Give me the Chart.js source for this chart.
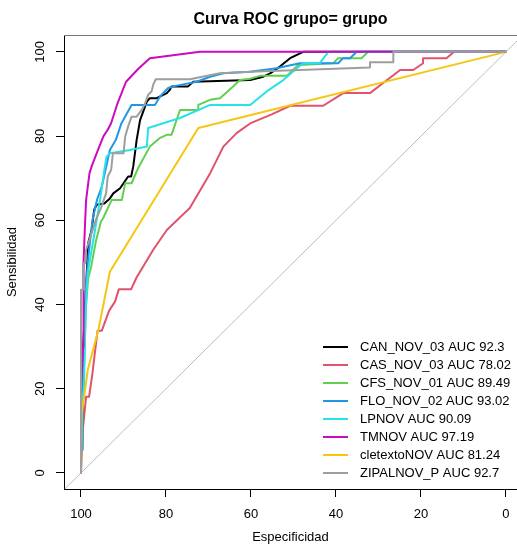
<!DOCTYPE html>
<html lang="es">
<head>
<meta charset="UTF-8">
<title>Curva ROC grupo= grupo</title>
<script src="https://cdn.jsdelivr.net/npm/chart.js@4"></script>
<style>
  html, body { margin: 0; padding: 0; background: #fff; }
  #wrap { width: 517px; height: 546px; }
</style>
</head>
<body>
<div id="wrap"><canvas id="rocChart" width="517" height="546"></canvas></div>
<script>
  // models and their AUC
  const modelNames = ['CAN_NOV_03', 'CAS_NOV_03', 'CFS_NOV_01', 'FLO_NOV_02', 'LPNOV', 'TMNOV', 'cletextoNOV', 'ZIPALNOV_P'];
  const aucValues = [92.3, 78.02, 89.49, 93.02, 90.09, 97.19, 81.24, 92.7];
  const tickValues = [0, 20, 40, 60, 80, 100];

  // especificidad / sensibilidad (%)
  const canSpec = [100, 100, 99.5, 99.0, 98.7, 98.3, 97.5, 96.9, 96.3, 94.5, 93.2, 92.4, 90.8, 88.9, 88.2, 87.7, 86.9, 86.1, 84.5, 83.8, 82.2, 79.8, 79.1, 78.7, 74.8, 73.6, 60.2, 57.1, 55.5, 53.2, 50.8, 47.7, 0];
  const canSens = [0, 20, 30, 40, 46.3, 54.6, 57.7, 62.5, 63.7, 64.0, 65.2, 66.4, 67.6, 70.4, 70.4, 72.8, 79.1, 83.8, 88.2, 89.0, 89.0, 90.2, 91.0, 91.8, 91.8, 92.9, 93.3, 94.1, 94.9, 96.5, 98.5, 100, 100];

  const casSpec = [100, 99.6, 98.8, 98.1, 97.3, 96.8, 96.1, 95.1, 93.4, 92.0, 91.1, 88.2, 87.0, 83.0, 79.8, 74.4, 69.6, 66.5, 63.4, 60.2, 55.0, 50.8, 43.0, 38.3, 32.0, 28.9, 24.9, 21.8, 19.5, 19.5, 14.0, 12.2, 0];
  const casSens = [0, 10, 18.1, 18.1, 23.7, 28.0, 33.8, 33.8, 38.5, 40.7, 43.6, 43.6, 46.3, 53.0, 57.7, 62.9, 71.2, 77.5, 80.7, 83.0, 85.2, 87.2, 87.2, 90.2, 90.2, 92.6, 95.7, 95.7, 97.3, 98.5, 98.5, 100, 100];

  const cfsSpec = [100, 100, 99.3, 98.8, 98.3, 97.6, 96.5, 95.3, 94.8, 92.8, 90.4, 89.6, 88.1, 86.5, 83.8, 81.5, 79.8, 78.7, 76.7, 72.4, 72.4, 69.6, 67.3, 64.2, 62.6, 60.2, 57.9, 51.6, 48.9, 40.6, 39.5, 34.0, 32.4, 0];
  const cfsSens = [0, 15, 25, 40, 46.3, 49.0, 55.0, 59.7, 60.5, 64.8, 64.8, 68.8, 68.8, 72.5, 77.5, 79.5, 80.3, 80.3, 86.2, 86.2, 87.4, 88.6, 89.0, 91.8, 93.3, 93.6, 94.3, 94.3, 96.9, 97.3, 98.5, 98.5, 100, 100];

  const floSpec = [100, 100, 99.6, 99.4, 98.8, 98.2, 97.3, 96.2, 95.1, 93.2, 91.8, 90.5, 88.1, 82.6, 81.4, 79.5, 78.3, 72.8, 69.6, 66.5, 60.2, 54.0, 48.5, 39.5, 38.3, 36.7, 35.1, 0];
  const floSens = [0, 5.5, 5.5, 30, 45, 52, 60, 65, 68, 76.7, 79.1, 83.0, 87.4, 87.4, 89.4, 91.4, 91.8, 92.9, 94.1, 94.9, 95.3, 96.1, 97.3, 97.3, 98.5, 98.5, 100, 100];

  const lpSpec = [100, 100, 99.3, 99.0, 98.6, 98.3, 96.7, 95.5, 94.5, 94.0, 93.2, 88.5, 84.5, 84.2, 76.7, 69.6, 60.2, 56.3, 52.4, 49.2, 47.7, 43.8, 41.8, 0];
  const lpSens = [0, 15, 20, 35, 45, 48.2, 57.7, 65, 72, 75.1, 75.9, 76.7, 77.5, 81.9, 84.3, 87.4, 87.4, 90.6, 93.3, 96.1, 97.3, 97.3, 100, 100];

  const tmSpec = [100, 100, 99.5, 99.4, 99.1, 98.8, 98.0, 97.5, 95.7, 94.7, 93.7, 92.9, 91.5, 89.4, 86.5, 83.8, 72.0, 0];
  const tmSens = [0, 20, 30, 50, 58, 64.8, 71.2, 72.8, 77.5, 80.0, 81.5, 83.1, 87.5, 92.9, 96.0, 98.5, 100, 100];

  const cletSpec = [100, 99.8, 98.4, 95.9, 93.2, 72.4, 0];
  const cletSens = [0, 14.2, 24.5, 34.0, 47.8, 81.9, 100];

  const zipSpec = [100, 100, 99.5, 99.5, 99.0, 98.8, 97.8, 96.5, 95.3, 94.1, 93.7, 92.9, 92.5, 90.0, 89.6, 88.9, 88.1, 86.9, 85.7, 84.9, 84.2, 83.4, 83.0, 82.4, 74.4, 67.3, 60.2, 32.0, 32.0, 26.5, 26.5, 0];
  const zipSens = [0, 43.5, 43.5, 49.8, 49.8, 53.0, 56.0, 60.1, 62.9, 66.4, 70.4, 72.0, 75.9, 75.9, 79.9, 82.3, 84.6, 84.6, 86.2, 87.8, 89.8, 90.6, 92.2, 93.5, 93.5, 94.9, 95.3, 96.3, 97.5, 97.5, 100, 100];

  const lineColors = ['#000000', '#DF536B', '#61D04F', '#2297E6', '#28E2E5', '#CD0BBC', '#F5C710', '#9E9E9E'];

  // axis limits (R adds a little room around 0..100)
  const xMin = -2.6, xMax = 104;
  const yMin = -3.8, yMax = 104;

  const curves = [
    [canSpec, canSens], [casSpec, casSens], [cfsSpec, cfsSens], [floSpec, floSens],
    [lpSpec, lpSens], [tmSpec, tmSens], [cletSpec, cletSens], [zipSpec, zipSens]
  ];

  const datasets = curves.map(([sp, se], i) => ({
    label: modelNames[i] + ' AUC ' + aucValues[i],
    data: sp.map((x, k) => ({ x: x, y: se[k] })),
    borderColor: lineColors[i],
    borderWidth: 2,
    borderJoinStyle: 'round',
    borderCapStyle: 'round',
    showLine: true,
    pointRadius: 0,
    tension: 0,
    order: curves.length - i   // later curves drawn on top, like lines(add=TRUE)
  }));

  // chance line sens = 100 - spec, across the whole plot
  datasets.push({
    label: 'diagonal',
    data: [{ x: xMax, y: 100 - xMax }, { x: xMin, y: 100 - xMin }],
    borderColor: '#BEBEBE',
    borderWidth: 1,
    showLine: true,
    pointRadius: 0,
    order: 99
  });

  const font = "'Liberation Sans', Arial, Helvetica, sans-serif";

  const rPlotExtras = {
    id: 'rPlotExtras',
    afterDraw(chart) {
      const { ctx, chartArea: area, scales } = chart;
      ctx.save();

      // top frame line
      ctx.strokeStyle = '#777';
      ctx.lineWidth = 1;
      ctx.beginPath();
      ctx.moveTo(area.left, area.top + 0.5);
      ctx.lineTo(area.right, area.top + 0.5);
      ctx.stroke();

      // main title
      ctx.fillStyle = '#000';
      ctx.font = 'bold 16px ' + font;
      ctx.textAlign = 'center';
      ctx.textBaseline = 'middle';
      ctx.fillText('Curva ROC grupo= grupo', (area.left + area.right) / 2, 20);

      // y tick labels, vertical like R
      ctx.font = '13px ' + font;
      tickValues.forEach(v => {
        const y = scales.y.getPixelForValue(v);
        ctx.save();
        ctx.translate(40, y);
        ctx.rotate(-Math.PI / 2);
        ctx.fillText(String(v), 0, 0);
        ctx.restore();
      });

      // legend, bottom right inside the plot
      ctx.textAlign = 'left';
      for (let i = 0; i < curves.length; i++) {
        const ds = chart.data.datasets[i];
        const y = 347 + i * 18;
        ctx.strokeStyle = ds.borderColor;
        ctx.lineWidth = 2;
        ctx.beginPath();
        ctx.moveTo(323, y);
        ctx.lineTo(348, y);
        ctx.stroke();
        ctx.fillStyle = '#000';
        ctx.fillText(ds.label, 360, y);
      }
      ctx.restore();
    }
  };

  const setTicks = s => { s.ticks = tickValues.map(v => ({ value: v })); };

  new Chart(document.getElementById('rocChart'), {
    type: 'scatter',
    data: { datasets: datasets },
    options: {
      responsive: false,
      animation: false,
      events: [],
      layout: { padding: { top: 35, right: 0, bottom: 0, left: 0 } },
      plugins: {
        legend: { display: false },
        tooltip: { enabled: false },
        title: { display: false }
      },
      scales: {
        x: {
          type: 'linear',
          reverse: true,
          min: xMin,
          max: xMax,
          afterBuildTicks: setTicks,
          afterFit: s => { s.height = 57; },
          grid: { drawOnChartArea: false, drawTicks: true, tickLength: 8, color: '#000' },
          border: { display: true, color: '#000', width: 1 },
          ticks: { color: '#000', font: { family: font, size: 13 }, padding: 10, maxRotation: 0, autoSkip: false },
          title: { display: true, text: 'Especificidad', color: '#000', font: { family: font, size: 13 }, padding: { top: 1, bottom: 1 } }
        },
        y: {
          type: 'linear',
          min: yMin,
          max: yMax,
          afterBuildTicks: setTicks,
          afterFit: s => { s.width = 64; },
          grid: { drawOnChartArea: false, drawTicks: true, tickLength: 8, color: '#000' },
          border: { display: true, color: '#000', width: 1 },
          ticks: { display: false },
          title: { display: true, text: 'Sensibilidad', color: '#000', font: { family: font, size: 13 }, padding: { top: 5, bottom: 5 } }
        }
      }
    },
    plugins: [rPlotExtras]
  });
</script>
</body>
</html>
